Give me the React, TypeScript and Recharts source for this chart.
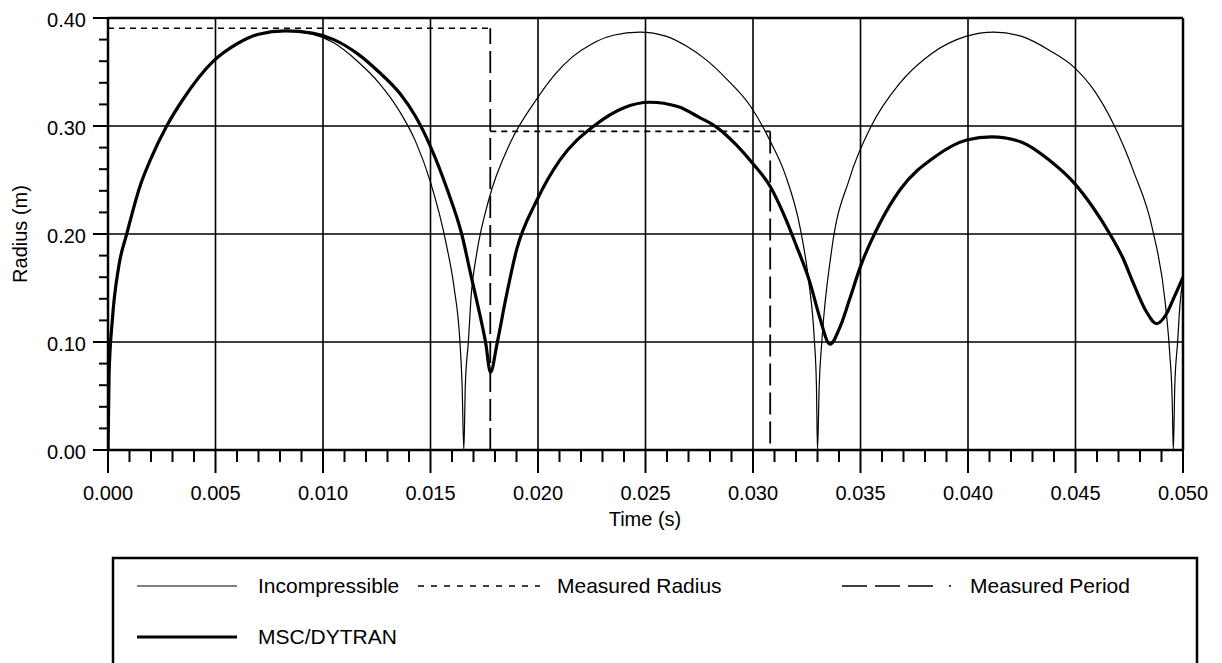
import React from 'react';
import { LineChart, Line, XAxis, YAxis, ReferenceLine, Label } from 'recharts';

const FONT = '"Liberation Sans", Arial, Helvetica, sans-serif';

// Time in milliseconds (axis labels are shown in seconds)
const incompT = [0, 0.05, 0.2, 0.5, 0.87, 1.5, 2.0, 2.73, 3.5, 4.9, 6.0, 7.0, 8.25, 9.5, 10.5, 11.6, 12.6, 13.58, 14.3, 15.0, 15.74, 16.1, 16.37, 16.47, 16.55,
  16.62, 16.76, 16.9, 17.15, 17.7, 18.7, 19.94, 20.8, 21.6, 22.5, 23.5, 24.74, 25.98, 26.9, 27.84, 28.8, 29.86, 30.8, 31.5, 32.2, 32.6, 32.85, 32.95, 33.0,
  33.08, 33.2, 33.65, 34.5, 35.5, 36.8, 38.3, 39.9, 41.2, 42.5, 43.8, 44.9, 45.9, 46.76, 47.7, 48.6, 49.17, 49.38, 49.5, 49.55, 49.62, 49.75, 49.86, 50.0];
const incompR = [0, 0.07, 0.12, 0.17, 0.2, 0.245, 0.27, 0.3, 0.325, 0.36, 0.377, 0.385, 0.388, 0.385, 0.377, 0.36, 0.34, 0.313, 0.286, 0.248, 0.19, 0.15, 0.1, 0.06, 0,
  0.06, 0.1, 0.145, 0.182, 0.231, 0.284, 0.325, 0.348, 0.364, 0.376, 0.384, 0.387, 0.383, 0.374, 0.361, 0.343, 0.319, 0.286, 0.255, 0.205, 0.155, 0.103, 0.06, 0,
  0.06, 0.1, 0.184, 0.252, 0.3, 0.339, 0.367, 0.383, 0.387, 0.383, 0.37, 0.355, 0.332, 0.302, 0.258, 0.203, 0.137, 0.09, 0.045, 0, 0.06, 0.1, 0.135, 0.158];

const dytranT = [0, 0.05, 0.2, 0.5, 0.87, 1.5, 2.0, 2.73, 3.5, 4.9, 6.0, 7.0, 8.25, 9.5, 10.5, 11.6, 12.6, 13.58, 14.3, 15.0, 15.8, 16.45, 16.9, 17.3, 17.56, 17.79,
  18.1, 18.5, 19.0, 19.94, 21.0, 22.6, 24.0, 25.2, 26.5, 27.5, 28.3, 29.2, 30.0, 30.8, 31.5, 32.0, 32.65, 33.1, 33.58,
  34.05, 34.5, 35.0, 35.9, 36.84, 38.5, 39.94, 41.1, 42.5, 43.8, 44.9, 45.8, 46.6, 47.2, 47.7, 48.3, 48.77, 49.2, 49.6, 50.0];
const dytranR = [0, 0.07, 0.12, 0.17, 0.2, 0.245, 0.27, 0.3, 0.325, 0.36, 0.376, 0.385, 0.388, 0.386, 0.38, 0.367, 0.35, 0.33, 0.309, 0.281, 0.24, 0.2, 0.16, 0.125, 0.1, 0.072,
  0.099, 0.14, 0.185, 0.231, 0.268, 0.3, 0.317, 0.322, 0.318, 0.308, 0.299, 0.283, 0.265, 0.244, 0.215, 0.19, 0.155, 0.123, 0.098,
  0.114, 0.14, 0.17, 0.21, 0.241, 0.272, 0.287, 0.29, 0.285, 0.268, 0.248, 0.225, 0.2, 0.178, 0.154, 0.128, 0.117, 0.125, 0.142, 0.16];

const measRadiusT = [0, 17.78, 17.78, 17.78, 30.8];
const measRadiusR: (number | null)[] = [0.3905, 0.3905, null, 0.295, 0.295];
const measPeriodT = [17.78, 17.78, 17.78, 30.8, 30.8];
const measPeriodR: (number | null)[] = [0, 0.3905, null, 0.295, 0];

const xMajorValues = [0, 5, 10, 15, 20, 25, 30, 35, 40, 45, 50];
const xTickLabels = ['0.000', '0.005', '0.010', '0.015', '0.020', '0.025', '0.030', '0.035', '0.040', '0.045', '0.050'];
const yMajorValues = [0, 0.1, 0.2, 0.3, 0.4];
const yTickLabels = ['0.00', '0.10', '0.20', '0.30', '0.40'];
const yAllTicks = [0, 0.02, 0.04, 0.06, 0.08, 0.1, 0.12, 0.14, 0.16, 0.18, 0.2, 0.22, 0.24, 0.26, 0.28, 0.3, 0.32, 0.34, 0.36, 0.38, 0.4];
const xAllTicks = Array.from({ length: 51 }, (_, i) => i);

const seriesNames = ['Incompressible', 'Measured Radius', 'Measured Period', 'MSC/DYTRAN'];

const toData = (ts: number[], rs: (number | null)[]) => ts.map((t, i) => ({ t, r: rs[i] }));
const incompData = toData(incompT, incompR);
const dytranData = toData(dytranT, dytranR);
const radiusData = toData(measRadiusT, measRadiusR);
const periodData = toData(measPeriodT, measPeriodR);

const XTick = (props: any) => {
  const { x, y, payload } = props;
  const v = payload.value as number;
  const major = v % 5 === 0;
  return (
    <g>
      <line x1={x} x2={x} y1={y} y2={y + (major ? 23 : 12)} stroke="#000" strokeWidth={2} />
      {major && (
        <text x={x} y={y + 50} textAnchor="middle" fontSize={20} fontFamily={FONT} fill="#000">
          {xTickLabels[v / 5]}
        </text>
      )}
    </g>
  );
};

const YTick = (props: any) => {
  const { x, y, payload } = props;
  const v = payload.value as number;
  const idx = Math.round(v * 10);
  const major = Math.abs(v * 10 - idx) < 1e-6;
  return (
    <g>
      <line x1={x - (major ? 15 : 9)} x2={x} y1={y} y2={y} stroke="#000" strokeWidth={2} />
      {major && (
        <text x={x - 22} y={y + 8.5} textAnchor="end" fontSize={20} fontFamily={FONT} fill="#000">
          {yTickLabels[idx]}
        </text>
      )}
    </g>
  );
};

const W = 1214;
const H = 655;
const LFS = 21;

export default function App() {
  return (
    <div style={{ position: 'relative', width: W, height: H, overflow: 'hidden', background: '#fff' }}>
      <LineChart width={W} height={H} margin={{ top: 10, right: 39, bottom: 153, left: 0 }}>
        <XAxis
          type="number"
          dataKey="t"
          domain={[0, 50]}
          allowDataOverflow
          ticks={xAllTicks}
          interval={0}
          tick={<XTick />}
          tickSize={0}
          tickMargin={0}
          tickLine={false}
          axisLine={{ stroke: '#000', strokeWidth: 2.5 }}
          height={60}
        >
          <Label
            content={() => (
              <text x={637} y={518} textAnchor="middle" fontSize={20} fontFamily={FONT} fill="#000">
                Time (s)
              </text>
            )}
          />
        </XAxis>
        <YAxis
          type="number"
          domain={[0, 0.4]}
          allowDataOverflow
          ticks={yAllTicks}
          interval={0}
          tick={<YTick />}
          tickSize={0}
          tickMargin={0}
          tickLine={false}
          axisLine={{ stroke: '#000', strokeWidth: 2.5 }}
          width={100}
        >
          <Label
            content={() => (
              <text
                x={12}
                y={226}
                textAnchor="middle"
                dominantBaseline="central"
                transform="rotate(-90, 12, 226)"
                fontSize={20}
                fontFamily={FONT}
                fill="#000"
              >
                Radius (m)
              </text>
            )}
          />
        </YAxis>
        {xMajorValues.slice(1).map((v) => (
          <ReferenceLine key={'gx' + v} x={v} stroke="#000" strokeWidth={v === 50 ? 2.5 : 1.6} />
        ))}
        {yMajorValues.slice(1).map((v) => (
          <ReferenceLine key={'gy' + v} y={v} stroke="#000" strokeWidth={v === 0.4 ? 2.5 : 1.6} />
        ))}
        <Line data={radiusData} dataKey="r" name={seriesNames[1]} type="linear" stroke="#000" strokeWidth={1.6}
          strokeDasharray="6 5" dot={false} activeDot={false} isAnimationActive={false} connectNulls={false} />
        <Line data={periodData} dataKey="r" name={seriesNames[2]} type="linear" stroke="#000" strokeWidth={1.8}
          strokeDasharray="22 7" dot={false} activeDot={false} isAnimationActive={false} connectNulls={false} />
        <Line data={incompData} dataKey="r" name={seriesNames[0]} type="monotone" stroke="#000" strokeWidth={1.2}
          dot={false} activeDot={false} isAnimationActive={false} />
        <Line data={dytranData} dataKey="r" name={seriesNames[3]} type="monotone" stroke="#000" strokeWidth={3.2}
          dot={false} activeDot={false} isAnimationActive={false} />
      </LineChart>
      <svg width={W} height={H} style={{ position: 'absolute', left: 0, top: 0, pointerEvents: 'none' }}>
        <rect x={105} y={550} width={1084} height={200} fill="none" stroke="#000" strokeWidth={2.5} />
        <line x1={129} x2={229} y1={578} y2={578} stroke="#000" strokeWidth={1.2} />
        <text x={250} y={585} fontSize={LFS} fontFamily={FONT} fill="#000">{seriesNames[0]}</text>
        <line x1={410} x2={532} y1={578} y2={578} stroke="#000" strokeWidth={1.6} strokeDasharray="6 7" />
        <text x={549} y={585} fontSize={LFS} fontFamily={FONT} fill="#000">{seriesNames[1]}</text>
        <line x1={834} x2={945} y1={578} y2={578} stroke="#000" strokeWidth={1.6} strokeDasharray="25 8 25 8 25 16 2 100" />
        <text x={962} y={585} fontSize={LFS} fontFamily={FONT} fill="#000">{seriesNames[2]}</text>
        <line x1={129} x2={229} y1={629} y2={629} stroke="#000" strokeWidth={3.2} />
        <text x={250} y={636} fontSize={LFS} fontFamily={FONT} fill="#000">{seriesNames[3]}</text>
      </svg>
    </div>
  );
}
